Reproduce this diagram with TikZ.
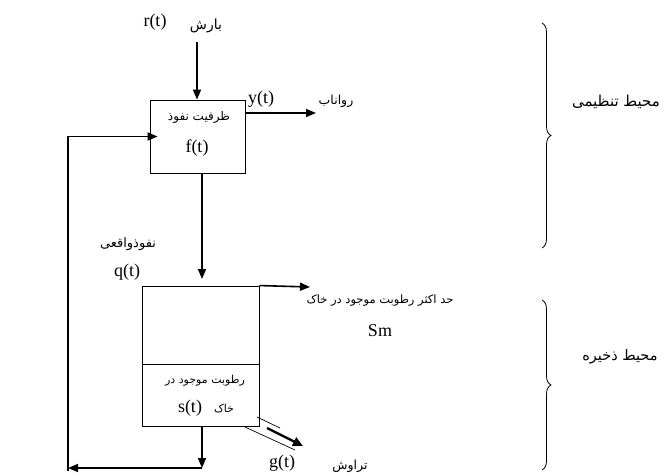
\documentclass[tikz,border=0pt]{standalone}
\usepackage{fontspec}
\setmainfont{Liberation Serif}
\newfontfamily\farsi[Script=Arabic]{DejaVu Sans}
\TeXXeTstate=1
\usetikzlibrary{arrows.meta,decorations.pathreplacing}
\newcommand{\fa}[1]{{\farsi\beginR #1\endR}}
\newcommand{\fsz}[1]{\fontsize{#1}{#1}\selectfont}

\begin{document}
\begin{tikzpicture}[x=1pt, y=-1pt,
  flow/.style={line width=1.6pt, -{Triangle[length=10pt,width=8pt]}},
  box/.style={draw, line width=0.9pt, inner sep=0pt},
  lat/.style={font=\fsz{18}, inner sep=1pt},
  fa/.style={inner sep=1pt},
  bracel/.style={decorate, decoration={brace, amplitude=9pt}, line width=0.8pt}]
  \useasboundingbox (0,0) rectangle (665,475);
  \fill[white] (0,0) rectangle (665,475);

  % upper box
  \node[box, minimum width=95pt, minimum height=73pt] (fbox) at (197.5,136.5) {};
  \node[fa, font=\fsz{12}] (fname) at (199,117) {\fa{ظرفیت نفوذ}};
  \node[lat] (ft) at (197,148) {f(t)};

  \node[lat] (rt) at (155,22) {r(t)};
  \node[fa, font=\fsz{14}] (rain) at (206,26) {\fa{بارش}};
  \coordinate (rtop) at (197,42);
  \draw[flow] (rtop) -- (rtop |- fbox.north);

  \node[lat] (yt) at (261,99) {y(t)};
  \node[fa, font=\fsz{12.5}] (runoff) at (336,101) {\fa{رواناب}};
  \coordinate (yend) at (316,113);
  \draw[flow] (fbox.east |- yend) -- (yend);

  \node[fa, font=\fsz{13}] (inf) at (128,244) {\fa{نفوذواقعی}};
  \node[lat] (qt) at (127,272) {q(t)};
  \coordinate (qend) at (202,279);
  \draw[flow] (qend |- fbox.south) -- (qend);

  % lower box
  \node[box, minimum width=117pt, minimum height=78pt] (stop) at (200.5,325) {};
  \node[box, minimum width=117pt, minimum height=62pt] (sbot) at (200.5,395) {};
  \node[fa, font=\fsz{11}] (sname) at (205,381) {\fa{رطوبت موجود در}};
  \node[lat] (st) at (190,408) {s(t)};
  \node[fa, font=\fsz{11}] (soil) at (224,409) {\fa{خاک}};

  \coordinate (smend) at (310,287);
  \draw[flow] (stop.north east) -- (smend);
  \node[fa, font=\fsz{11.5}] (smname) at (380,301) {\fa{حد اکثر رطوبت موجود در خاک}};
  \node[lat] (sm) at (380,331) {Sm};

  % feedback
  \coordinate (fbl) at (202,468);
  \coordinate (fbc) at (68,468);
  \coordinate (fbb) at (68,471);
  \coordinate (fbt) at (68,136.5);
  \draw[flow] (fbl |- sbot.south) -- (fbl);
  \draw[flow] (fbl) -- (fbc);
  \draw[flow, shorten >=-8pt] (fbb) -- (fbt) -- (fbox.west);

  % percolation
  \draw[line width=0.7pt] (257,417) -- (280,428);
  \draw[line width=0.7pt] (245,427) -- (295,450);
  \draw[line width=2.4pt, -{Triangle[length=10pt,width=9pt]}] (267,428) -- (303,446);
  \node[lat] (gt) at (282,463) {g(t)};
  \node[fa, font=\fsz{12.5}] (perc) at (350,466) {\fa{تراوش}};

  % braces
  \draw[bracel] (542,23) -- (542,248);
  \node[fa, font=\fsz{15}] (reg) at (616,102) {\fa{محیط تنظیمی}};
  \draw[bracel] (542,300) -- (542,470);
  \node[fa, font=\fsz{14.5}] (store) at (620,357) {\fa{محیط ذخیره}};
\end{tikzpicture}
\end{document}
